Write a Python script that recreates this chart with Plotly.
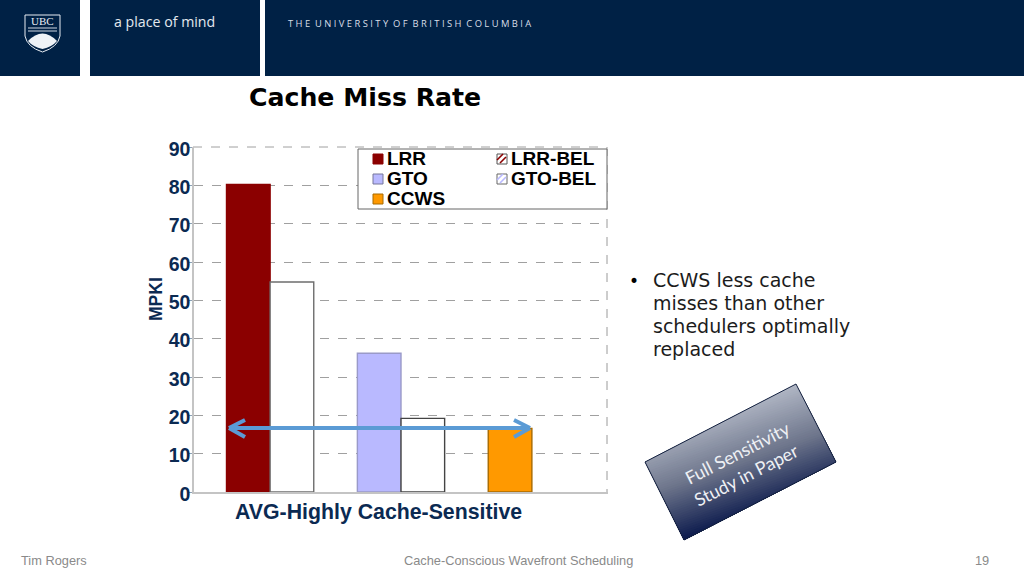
import plotly.graph_objects as go
import numpy as np

W, H = 1024, 576
category = "AVG-Highly Cache-Sensitive"
series_names = ["LRR", "LRR-BEL", "", "GTO", "GTO-BEL", " ", "CCWS", "  "]
series_values = [80.2, 54.8, None, 36.2, 19.2, None, 16.6, None]
series_fill = ["#8b0000", "#ffffff", "rgba(0,0,0,0)", "#b9b9ff", "#ffffff", "rgba(0,0,0,0)", "#ff9900", "rgba(0,0,0,0)"]
series_line = ["#8b0000", "#6e6e6e", "rgba(0,0,0,0)", "#9a9ac8", "#444444", "rgba(0,0,0,0)", "#a86a00", "rgba(0,0,0,0)"]
y_ticks = [0, 10, 20, 30, 40, 50, 60, 70, 80, 90]
NAVY = "#002145"
TICK = "#0b2a52"

def px(x): return x / W
def py(y): return 1 - y / H

fig = go.Figure()
for n, v, f, l in zip(series_names, series_values, series_fill, series_line):
    fig.add_trace(go.Bar(x=[category], y=[v], name=n, showlegend=False,
                         marker=dict(color=f, line=dict(color=l, width=1.4)), hoverinfo="skip"))

shapes, ann = [], []

def rect(x0, y0, x1, y1, fill, line=None, lw=0, layer="above"):
    shapes.append(dict(type="rect", xref="paper", yref="paper", x0=px(x0), x1=px(x1), y0=py(y0), y1=py(y1),
                       fillcolor=fill, line=dict(color=line or fill, width=lw), layer=layer))

def seg(x0, y0, x1, y1, color, w, dash="solid", layer="above"):
    shapes.append(dict(type="line", xref="paper", yref="paper", x0=px(x0), x1=px(x1), y0=py(y0), y1=py(y1),
                       line=dict(color=color, width=w, dash=dash), layer=layer))

def text(x, y, s, size, color, font="Liberation Sans", bold=False, anchor="left", angle=0):
    ann.append(dict(x=px(x), y=py(y), xref="paper", yref="paper", text=f"<b>{s}</b>" if bold else s,
                    showarrow=False, xanchor=anchor, yanchor="middle", textangle=angle, borderpad=0, borderwidth=0,
                    font=dict(size=size, color=color, family=font)))

# Header band
rect(0, 0, 80, 76, NAVY)
rect(90, 0, 260, 76, NAVY)
rect(265, 0, 1024, 76, NAVY)
shapes.append(dict(type="path", xref="paper", yref="paper", layer="above",
    path=" ".join(["M", f"{px(25)},{py(15)}", "L", f"{px(60)},{py(15)}", "L", f"{px(60)},{py(36)}",
                   "Q", f"{px(58)},{py(47)}", f"{px(42.5)},{py(52)}",
                   "Q", f"{px(27)},{py(47)}", f"{px(25)},{py(36)}", "Z"]),
    fillcolor=NAVY, line=dict(color="#e8edf3", width=1)))
for yy in (28, 31):
    seg(28, yy, 57, yy, "#cfd8e3", 1)
shapes.append(dict(type="path", xref="paper", yref="paper", layer="above",
    path=" ".join(["M", f"{px(28)},{py(41)}", "Q", f"{px(42.5)},{py(26)}", f"{px(57)},{py(41)}",
                   "Q", f"{px(52)},{py(47)}", f"{px(42.5)},{py(49)}",
                   "Q", f"{px(33)},{py(47)}", f"{px(28)},{py(41)}", "Z"]),
    fillcolor="#eef2f6", line=dict(color="#eef2f6", width=0)))
text(42.5, 21, "UBC", 11, "#e8edf3", font="Liberation Serif", anchor="center")
text(114, 22, "a place of mind", 14.2, "#e4e9ef", font="Open Sans")
text(288, 23, "T H E  U N I V E R S I T Y  O F  B R I T I S H  C O L U M B I A", 9.4, "#d8dfe8", font="Open Sans")

# Title
text(249, 97, "Cache Miss Rate", 25.2, "#000000", font="DejaVu Sans", bold=True)

# Top grid line and right-hand plot edge
seg(193, 147, 607, 147, "#a0a0a0", 1, "dash", layer="below")
seg(607, 147, 607, 492, "#9a9a9a", 1, "dash")

# Legend
rect(358, 149, 607, 209, "#ffffff", "#666666", 1)
legend = [(series_names[0], 373, 159, series_fill[0], series_line[0]),
          (series_names[3], 373, 179, series_fill[3], "#77779a"),
          (series_names[6], 373, 199, series_fill[6], "#a86a00")]
for n, x, y, f, l in legend:
    rect(x, y - 5, x + 10, y + 5, f, l, 1)
    text(x + 14, y - 1, n, 19, "#000000", bold=True)
for n, x, y, c, l in [(series_names[1], 497, 159, "#8b0000", "#555555"), (series_names[4], 497, 179, "#b9b9ff", "#666666")]:
    rect(x, y - 5, x + 10, y + 5, "#ffffff", l, 1)
    seg(x, y + 1, x + 6, y - 5, c, 1.6)
    seg(x + 3, y + 4, x + 9, y - 2, c, 1.6)
    text(x + 14, y - 1, n, 19, "#000000", bold=True)

# Axis texts
text(378, 512, category, 21.3, TICK, bold=True, anchor="center")
text(156, 299, "MPKI", 17.5, TICK, bold=True, anchor="center", angle=-90)

# Double arrow
ARROW = "#5b9bd5"
seg(229, 428, 530, 428, ARROW, 4)
seg(229, 428, 245, 420, ARROW, 4)
seg(229, 428, 245, 437, ARROW, 4)
seg(530, 428, 514, 420, ARROW, 4)
seg(530, 428, 514, 437, ARROW, 4)

# Bullets
text(629, 281, "•", 17, "#000000", font="DejaVu Sans")
for i, line in enumerate(["CCWS less cache", "misses than other", "schedulers optimally", "replaced"]):
    text(653, 280 + i * 23, line, 19, "#1c1c1c", font="DejaVu Sans")

# Rotated gradient card
card = np.array([[645, 462], [796, 384], [836, 462], [684, 540]], float)
def clip(poly, n, c):
    out = []
    for a, b in zip(poly, np.roll(poly, -1, axis=0)):
        da, db = a @ n - c, b @ n - c
        if da >= 0:
            out.append(a)
        if da * db < 0:
            out.append(a + (b - a) * da / (da - db))
    return np.array(out)
direction = np.array([0.33, 0.94])
proj = card @ direction
lo, hi = proj.min(), proj.max()
c_top, c_mid, c_bot = np.array([176, 182, 196]), np.array([110, 118, 140]), np.array([14, 28, 78])
STEPS = 50
for k in range(STEPS):
    t = k / (STEPS - 1)
    c = c_top + (c_mid - c_top) * t / 0.5 if t < 0.5 else c_mid + (c_bot - c_mid) * (t - 0.5) / 0.5
    poly = clip(card, direction, lo + (hi - lo) * k / STEPS)
    if len(poly) < 3:
        continue
    path = "M " + " L ".join(f"{px(p[0])},{py(p[1])}" for p in poly) + " Z"
    shapes.append(dict(type="path", xref="paper", yref="paper", path=path, layer="above",
                       fillcolor=f"rgb({int(c[0])},{int(c[1])},{int(c[2])})", line=dict(width=0)))
outline = "M " + " L ".join(f"{px(p[0])},{py(p[1])}" for p in card) + " Z"
shapes.append(dict(type="path", xref="paper", yref="paper", path=outline, layer="above",
                   line=dict(color="#14213f", width=1)))
text(737, 453, "Full Sensitivity", 18, "#eef0f4", font="Lato", anchor="center", angle=-27)
text(746, 475, "Study in Paper", 18, "#eef0f4", font="Lato", anchor="center", angle=-27)

# Footer
text(21, 560, "Tim Rogers", 12.8, "#8a8a8a")
text(518.5, 560, "Cache-Conscious Wavefront Scheduling", 12.8, "#8a8a8a", anchor="center")
text(982, 560, "19", 12.8, "#8a8a8a", anchor="center")

fig.update_layout(
    width=W, height=H, margin=dict(l=0, r=0, t=0, b=0, pad=0), paper_bgcolor="#ffffff", plot_bgcolor="#ffffff",
    barmode="group", bargap=0.157, bargroupgap=0, showlegend=False, shapes=shapes, annotations=ann,
    xaxis=dict(domain=[px(194), px(608)], showticklabels=False, ticks="", showline=True, automargin=False,
               linecolor="#c4c4c4", linewidth=1.5, fixedrange=True),
    yaxis=dict(domain=[py(492), py(147)], range=[0, 90], tickvals=y_ticks, ticks="outside", ticklen=3, automargin=False,
               tickcolor="#8fa0b5", showline=True, linecolor="#c4c4c4", linewidth=1.5,
               griddash="dash", gridcolor="#a0a0a0", gridwidth=1, zeroline=False,
               ticklabelstandoff=-5, ticklabelshift=2,
               tickfont=dict(size=19.5, color=TICK, family="Liberation Sans", weight="bold"), fixedrange=True),
)
fig.write_html("out.html", config=dict(displayModeBar=False),
               post_script="document.body.style.margin='0';")
